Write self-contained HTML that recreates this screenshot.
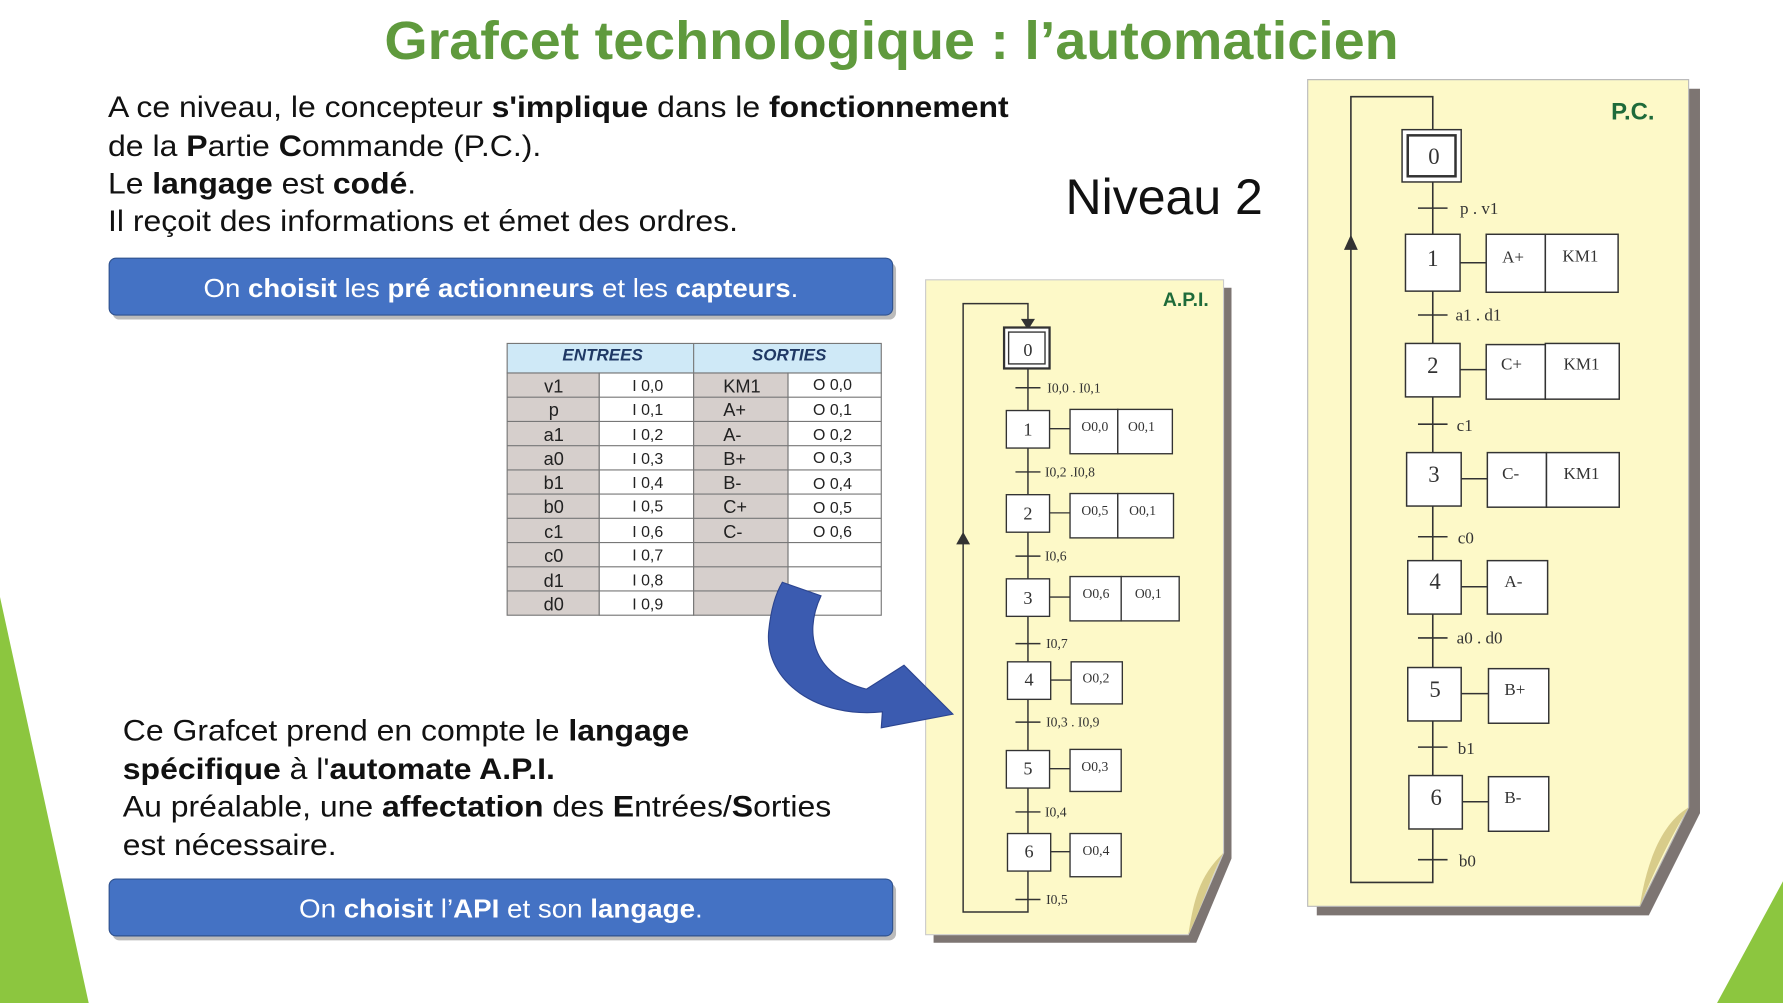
<!DOCTYPE html>
<html><head><meta charset="utf-8"><style>
html,body{margin:0;padding:0;background:#fff;overflow:hidden}
svg{display:block}
</style></head><body>
<svg width="1783" height="1003" viewBox="0 0 1568 882" xmlns="http://www.w3.org/2000/svg" font-family="Liberation Sans, sans-serif">
<rect width="1568" height="882" fill="#fff"/>
<polygon points="0,525 78,882 0,882" fill="#8cc63f"/>
<polygon points="1568,775 1510,882 1568,882" fill="#8cc63f"/>
<text x="338" y="52" textLength="892" lengthAdjust="spacingAndGlyphs" font-size="47" font-weight="bold" fill="#5f9a3d">Grafcet technologique : l’automaticien</text>
<g font-size="26" fill="#111">
<text x="95" y="103" textLength="792" lengthAdjust="spacingAndGlyphs">A ce niveau, le concepteur <tspan font-weight="bold">s'implique</tspan> dans le <tspan font-weight="bold">fonctionnement</tspan></text>
<text x="95" y="137" textLength="381" lengthAdjust="spacingAndGlyphs">de la <tspan font-weight="bold">P</tspan>artie <tspan font-weight="bold">C</tspan>ommande (P.C.).</text>
<text x="95" y="170" textLength="271" lengthAdjust="spacingAndGlyphs">Le <tspan font-weight="bold">langage</tspan> est <tspan font-weight="bold">codé</tspan>.</text>
<text x="95" y="203" textLength="554" lengthAdjust="spacingAndGlyphs">Il reçoit des informations et émet des ordres.</text>
<text x="108" y="651" textLength="498" lengthAdjust="spacingAndGlyphs">Ce Grafcet prend en compte le <tspan font-weight="bold">langage</tspan></text>
<text x="108" y="685" textLength="380" lengthAdjust="spacingAndGlyphs"><tspan font-weight="bold">spécifique</tspan> à l'<tspan font-weight="bold">automate A.P.I.</tspan></text>
<text x="108" y="718" textLength="623" lengthAdjust="spacingAndGlyphs">Au préalable, une <tspan font-weight="bold">affectation</tspan> des <tspan font-weight="bold">E</tspan>ntrées/<tspan font-weight="bold">S</tspan>orties</text>
<text x="108" y="752" textLength="188" lengthAdjust="spacingAndGlyphs">est nécessaire.</text>
</g>
<text x="937" y="188" font-size="44" fill="#111">Niveau 2</text>
<rect x="99" y="231" width="689" height="50" rx="6" fill="#bbb"/>
<rect x="96" y="227" width="689" height="50" rx="6" fill="#4472c4" stroke="#2f528f"/>
<text x="179" y="261" textLength="523" lengthAdjust="spacingAndGlyphs" font-size="23" fill="#fff">On <tspan font-weight="bold">choisit</tspan> les <tspan font-weight="bold">pré actionneurs</tspan> et les <tspan font-weight="bold">capteurs</tspan>.</text>
<rect x="99" y="777" width="689" height="50" rx="6" fill="#bbb"/>
<rect x="96" y="773" width="689" height="50" rx="6" fill="#4472c4" stroke="#2f528f"/>
<text x="263" y="807" textLength="355" lengthAdjust="spacingAndGlyphs" font-size="23" fill="#fff">On <tspan font-weight="bold">choisit</tspan> l’<tspan font-weight="bold">API</tspan> et son <tspan font-weight="bold">langage</tspan>.</text>
<!-- table -->
<g stroke="#777" stroke-width="1">
<rect x="446" y="302" width="329" height="26" fill="#cfe9f7"/>
<rect x="446" y="328" width="81" height="213" fill="#d6cfcc"/>
<rect x="527" y="328" width="83" height="213" fill="#fff"/>
<rect x="610" y="328" width="83" height="213" fill="#d6cfcc"/>
<rect x="693" y="328" width="82" height="213" fill="#fff"/>
<line x1="610" y1="302" x2="610" y2="328"/>
<path d="M446 349.3H775M446 370.6H775M446 391.9H775M446 413.2H775M446 434.5H775M446 455.8H775M446 477.1H775M446 498.4H775M446 519.7H775"/>
</g>
<g font-size="15" font-style="italic" font-weight="bold" fill="#1f3864" text-anchor="middle">
<text x="530" y="317">ENTREES</text><text x="694" y="317">SORTIES</text></g>
<g font-size="16" fill="#222">
<g text-anchor="middle">
<text x="487" y="345">v1</text><text x="487" y="366">p</text><text x="487" y="388">a1</text><text x="487" y="409">a0</text><text x="487" y="430">b1</text><text x="487" y="451">b0</text><text x="487" y="473">c1</text><text x="487" y="494">c0</text><text x="487" y="516">d1</text><text x="487" y="537">d0</text>
</g>
<g font-size="14">
<text x="556" y="344">I 0,0</text><text x="556" y="365">I 0,1</text><text x="556" y="387">I 0,2</text><text x="556" y="408">I 0,3</text><text x="556" y="429">I 0,4</text><text x="556" y="450">I 0,5</text><text x="556" y="472">I 0,6</text><text x="556" y="493">I 0,7</text><text x="556" y="515">I 0,8</text><text x="556" y="536">I 0,9</text>
<text x="715" y="343">O 0,0</text><text x="715" y="365">O 0,1</text><text x="715" y="387">O 0,2</text><text x="715" y="407">O 0,3</text><text x="715" y="430">O 0,4</text><text x="715" y="451">O 0,5</text><text x="715" y="472">O 0,6</text>
</g>
<text x="636" y="345">KM1</text><text x="636" y="366">A+</text><text x="636" y="388">A-</text><text x="636" y="409">B+</text><text x="636" y="430">B-</text><text x="636" y="451">C+</text><text x="636" y="473">C-</text>
</g>
<!-- API paper -->
<polygon points="821,253 1083,253 1083,755 1052,829 821,829" fill="#7d7572"/>
<polygon points="814,246 1076,246 1076,750 1045,822 814,822" fill="#fdf9c8" stroke="#ccc"/>
<path d="M1045,822 C1050,790 1055,770 1076,750 C1065,770 1058,795 1045,822Z" fill="#d8cc8a"/>
<text x="1063" y="269" text-anchor="end" font-size="17" font-weight="bold" fill="#1e6b3a">A.P.I.</text>
<g stroke="#333" stroke-width="1.3" fill="none">
<path d="M904,323V791V802H847V267H904V283"/>
<path d="M899,281L904,289L909,281Z" fill="#333"/>
<path d="M842,478L847,469L852,478Z" fill="#333"/>
<path d="M893,341H915M893,415H915M893,489H915M893,566H915M893,635H915M893,714H915M893,791H915"/>
</g>
<g stroke="#333" stroke-width="1.2" fill="#fff">
<rect x="883" y="288" width="40" height="36" stroke-width="2"/><rect x="887" y="292" width="32" height="28"/>
<rect x="885" y="361" width="38" height="33"/><rect x="885" y="435" width="38" height="33"/><rect x="885" y="509" width="38" height="33"/><rect x="886" y="582" width="38" height="33"/><rect x="885" y="660" width="38" height="33"/><rect x="886" y="733" width="38" height="33"/>
<path d="M923,377H941M923,451H941M923,525H941M924,598H943M923,676H941M924,749H941"/>
<rect x="941" y="360" width="42" height="39"/><rect x="983" y="360" width="48" height="39"/>
<rect x="941" y="434" width="42" height="39"/><rect x="983" y="434" width="49" height="39"/>
<rect x="941" y="507" width="45" height="39"/><rect x="986" y="507" width="51" height="39"/>
<rect x="942" y="582" width="45" height="37"/><rect x="941" y="659" width="45" height="37"/><rect x="941" y="733" width="45" height="38"/>
</g>
<g font-family="Liberation Serif, serif" fill="#333">
<g font-size="16" text-anchor="middle"><text x="904" y="313">0</text><text x="904" y="383">1</text><text x="904" y="457">2</text><text x="904" y="531">3</text><text x="905" y="603">4</text><text x="904" y="681">5</text><text x="905" y="754">6</text></g>
<g font-size="12"><text x="921" y="345">I0,0 . I0,1</text><text x="919" y="419">I0,2 .I0,8</text><text x="919" y="493">I0,6</text><text x="920" y="570">I0,7</text><text x="920" y="639">I0,3 . I0,9</text><text x="919" y="718">I0,4</text><text x="920" y="795">I0,5</text>
<text x="951" y="379">O0,0</text><text x="992" y="379">O0,1</text><text x="951" y="453">O0,5</text><text x="993" y="453">O0,1</text><text x="952" y="526">O0,6</text><text x="998" y="526">O0,1</text><text x="952" y="600">O0,2</text><text x="951" y="678">O0,3</text><text x="952" y="752">O0,4</text></g>
</g>
<!-- PC paper -->
<polygon points="1158,78 1495,78 1495,715 1450,805 1158,805" fill="#7d7572"/>
<polygon points="1150,70 1485,70 1485,710 1442,797 1150,797" fill="#fdf9c8" stroke="#bbb"/>
<path d="M1442,797 C1448,760 1460,725 1485,710 C1470,735 1455,765 1442,797Z" fill="#d8cc8a"/>
<text x="1455" y="105" text-anchor="end" font-size="21" font-weight="bold" fill="#1e6b3a">P.C.</text>
<g stroke="#333" stroke-width="1.4" fill="none">
<path d="M1260,158V776H1188V85H1260V115"/>
<path d="M1183,219L1188,208L1193,219Z" fill="#333"/>
<path d="M1247,183H1273M1247,277H1273M1247,373H1273M1247,472H1273M1247,561H1273M1247,657H1273M1247,756H1273"/>
</g>
<g stroke="#333" stroke-width="1.3" fill="#fff">
<rect x="1233" y="114" width="52" height="46"/><rect x="1238" y="119" width="42" height="36" stroke-width="2.2"/>
<rect x="1236" y="206" width="48" height="50"/><rect x="1236" y="302" width="48" height="47"/><rect x="1237" y="398" width="48" height="47"/><rect x="1238" y="493" width="47" height="47"/><rect x="1238" y="587" width="47" height="47"/><rect x="1239" y="682" width="47" height="47"/>
<path d="M1284,231H1307M1284,325H1307M1285,421H1308M1285,516H1308M1285,610H1309M1286,705H1309"/>
<rect x="1307" y="206" width="52" height="51"/><rect x="1359" y="206" width="64" height="51"/>
<rect x="1307" y="303" width="52" height="48"/><rect x="1359" y="302" width="65" height="49"/>
<rect x="1308" y="398" width="52" height="48"/><rect x="1360" y="398" width="64" height="48"/>
<rect x="1308" y="493" width="53" height="47"/><rect x="1309" y="588" width="53" height="48"/><rect x="1309" y="683" width="53" height="48"/>
</g>
<g font-family="Liberation Serif, serif" fill="#333">
<g font-size="20" text-anchor="middle"><text x="1261" y="144">0</text><text x="1260" y="234">1</text><text x="1260" y="328">2</text><text x="1261" y="424">3</text><text x="1262" y="518">4</text><text x="1262" y="613">5</text><text x="1263" y="708">6</text></g>
<g font-size="15"><text x="1284" y="188">p . v1</text><text x="1280" y="282">a1 . d1</text><text x="1281" y="379">c1</text><text x="1282" y="478">c0</text><text x="1281" y="566">a0 . d0</text><text x="1282" y="663">b1</text><text x="1283" y="762">b0</text>
<text x="1321" y="231">A+</text><text x="1374" y="230">KM1</text><text x="1320" y="325">C+</text><text x="1375" y="325">KM1</text><text x="1321" y="421">C-</text><text x="1375" y="421">KM1</text><text x="1323" y="516">A-</text><text x="1323" y="611">B+</text><text x="1323" y="706">B-</text></g>
</g>
<!-- curved blue arrow -->
<path d="M688,512 L722,524 C705,560 718,595 762,606 L795,585 L838,628 L775,640 L776,626 C720,632 672,600 676,555 C678,535 682,522 688,512Z" fill="#3b5bb0" stroke="#2c4590"/>
</svg>
</body></html>
